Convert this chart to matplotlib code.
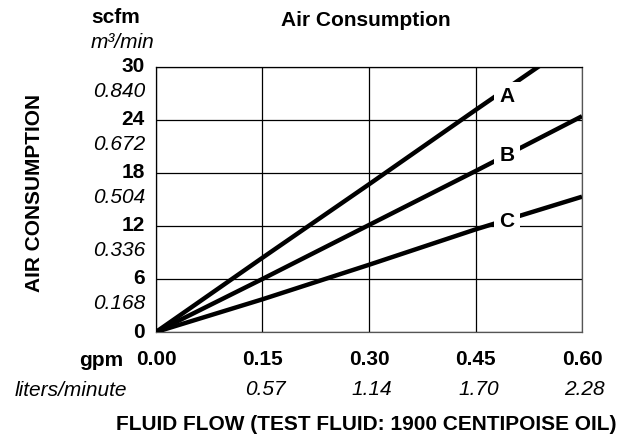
import matplotlib.pyplot as plt

plt.rcParams['font.family'] = ['Liberation Sans', 'DejaVu Sans']

# flow (gpm) and air consumption (scfm)
flow_gpm = [0.00, 0.15, 0.30, 0.45, 0.60]
air_a = [0.0, 8.4, 16.7, 25.1, 33.4]
air_b = [0.0, 6.0, 12.1, 18.2, 24.4]
air_c = [0.0, 3.7, 7.6, 11.6, 15.3]

x_ticks = [0.00, 0.15, 0.30, 0.45, 0.60]
x_ticks_lpm = ['', '0.57', '1.14', '1.70', '2.28']
y_ticks = [0, 6, 12, 18, 24, 30]
y_ticks_m3 = ['', '0.168', '0.336', '0.504', '0.672', '0.840']

curve_labels = ['A', 'B', 'C']
label_pos = [(0.494, 26.6), (0.494, 20.0), (0.494, 12.5)]

FS = 15

fig = plt.figure(figsize=(6.32, 4.38), dpi=100)
ax = fig.add_axes([0.2468, 0.242, 0.6741, 0.6057])

for y in (air_a, air_b, air_c):
    ax.plot(flow_gpm, y, color='black', lw=3.2, solid_capstyle='butt', zorder=3)

for lab, (lx, ly) in zip(curve_labels, label_pos):
    ax.text(lx, ly, lab, fontsize=FS, fontweight='bold', ha='center', va='center', zorder=4,
            bbox=dict(facecolor='white', edgecolor='none', pad=4))

ax.set_xlim(0, 0.60)
ax.set_ylim(0, 30)
ax.set_xticks(x_ticks)
ax.set_yticks(y_ticks)
ax.grid(True, color='black', lw=0.9)
ax.tick_params(length=0, labelbottom=False, labelleft=False)
for s in ax.spines.values():
    s.set_linewidth(0.9)
ax.spines['bottom'].set_color('#555555')
ax.spines['right'].set_color('#555555')

ytr = ax.get_yaxis_transform()
for v, m3 in zip(y_ticks, y_ticks_m3):
    ax.text(-0.026, v, str(v), transform=ytr, ha='right', va='center', fontsize=FS, fontweight='bold')
    if m3:
        ax.text(-0.026, v - 2.75, m3, transform=ytr, ha='right', va='center', fontsize=FS, style='italic')

xtr = ax.get_xaxis_transform()
for v, lpm in zip(x_ticks, x_ticks_lpm):
    ax.text(v, -0.105, f'{v:.2f}', transform=xtr, ha='center', va='center', fontsize=FS, fontweight='bold')
    if lpm:
        ax.text(v + 0.004, -0.218, lpm, transform=xtr, ha='center', va='center', fontsize=FS, style='italic')

# unit labels and titles in figure pixels
W, H = 632, 438
fig.text(123 / W, 1 - 360 / H, 'gpm', ha='right', va='center', fontsize=FS, fontweight='bold')
fig.text(127 / W, 1 - 390 / H, 'liters/minute', ha='right', va='center', fontsize=FS, style='italic')
fig.text(91 / W, 1 - 17.5 / H, 'scfm', ha='left', va='center', fontsize=FS, fontweight='bold')
fig.text(91 / W, 1 - 42 / H, 'm\u00b3/min', ha='left', va='center', fontsize=FS, style='italic')
fig.text(366 / W, 1 - 20 / H, 'Air Consumption', ha='center', va='center', fontsize=FS, fontweight='bold')
fig.text(366 / W, 1 - 425 / H, 'FLUID FLOW (TEST FLUID: 1900 CENTIPOISE OIL)', ha='center', va='center',
         fontsize=FS, fontweight='bold')
fig.text(35 / W, 1 - 193 / H, 'AIR CONSUMPTION', ha='center', va='center', rotation=90,
         fontsize=FS, fontweight='bold')

fig.savefig('out.png', dpi=100)
